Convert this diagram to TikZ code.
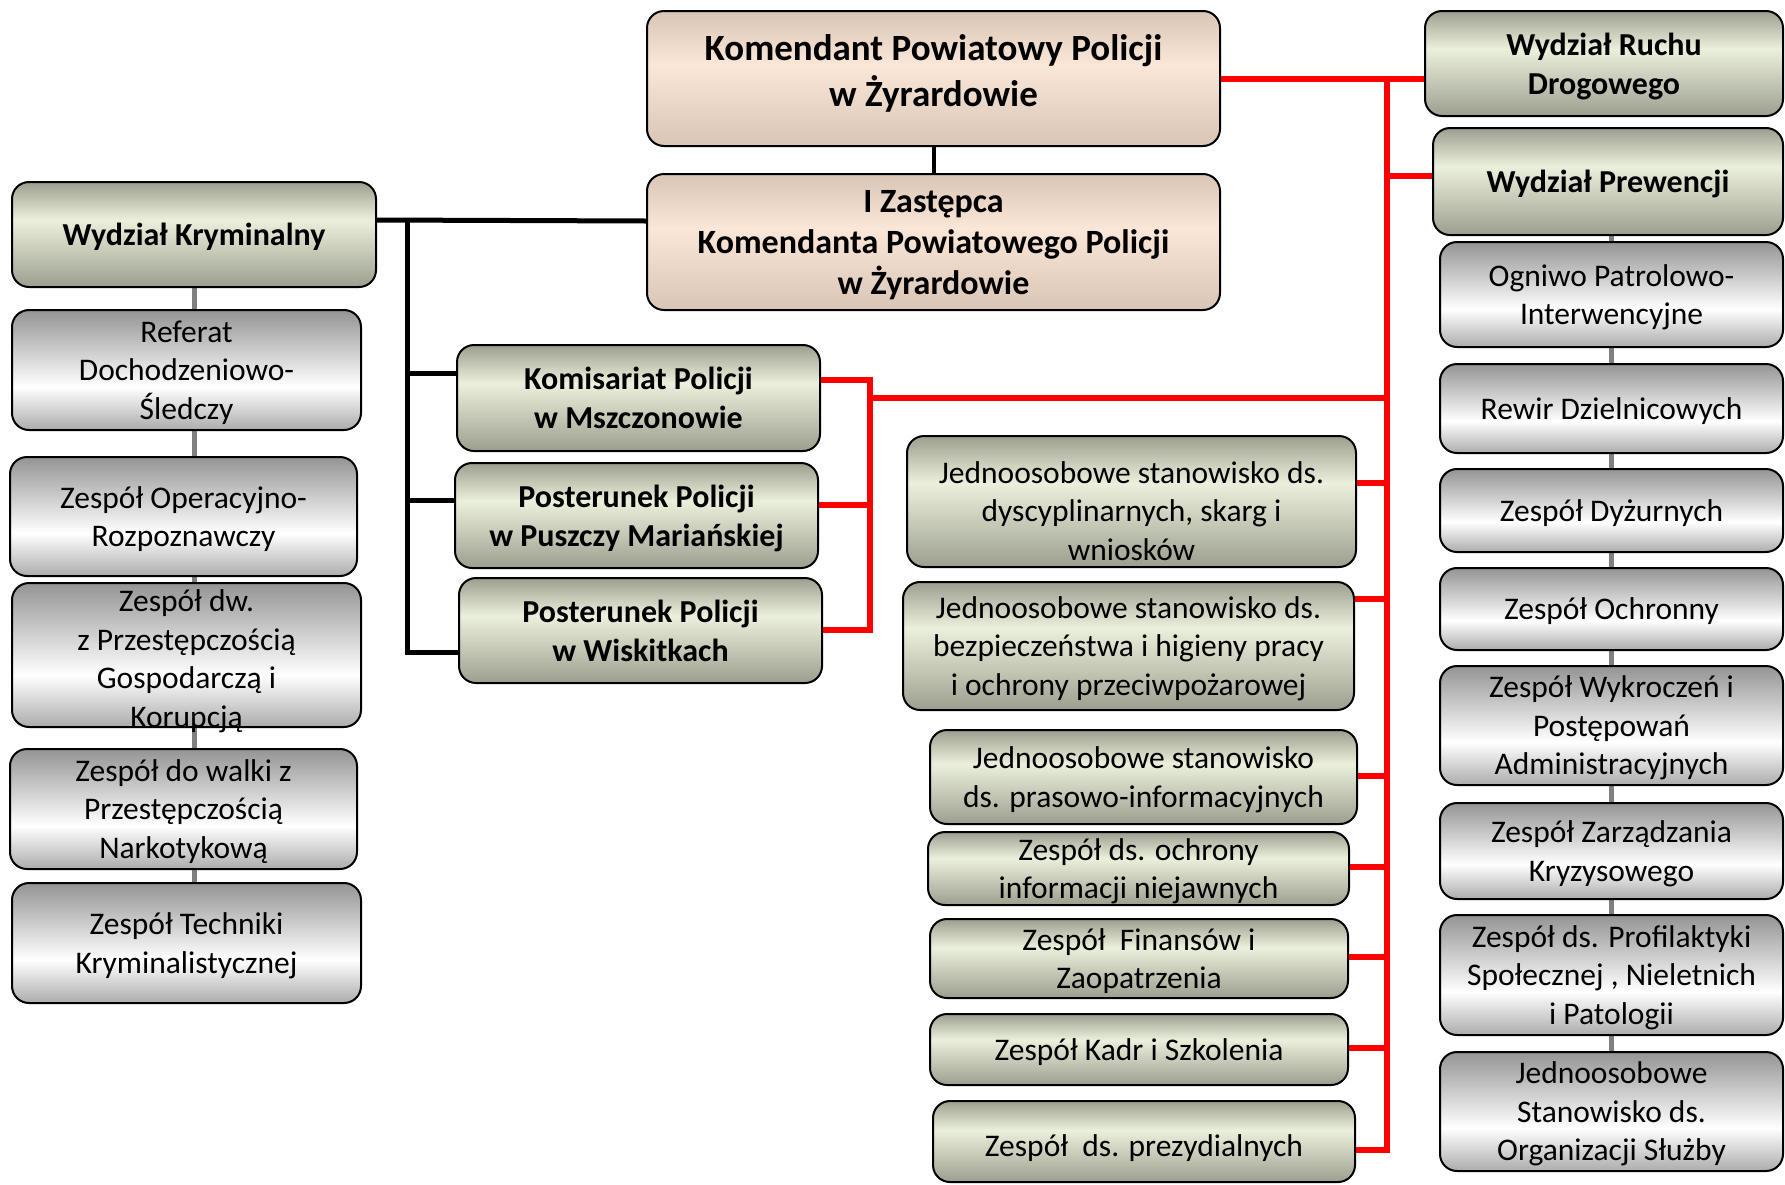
\documentclass[tikz,border=0pt]{standalone}
\usepackage{fontspec}
\setmainfont{Carlito}
\usepackage{tikz}
\usetikzlibrary{%
  positioning
 ,backgrounds
}
\definecolor{olD}{RGB}{156,159,142}
\definecolor{olL}{RGB}{235,240,220}
\definecolor{grD}{RGB}{148,148,148}
\definecolor{grB}{RGB}{172,172,172}
\definecolor{tnD}{RGB}{216,197,182}
\definecolor{tnL}{RGB}{251,231,216}
\definecolor{redl}{RGB}{255,0,0}
\definecolor{grl}{RGB}{128,128,128}
\pgfdeclareverticalshading{olv}{100bp}{color(0bp)=(olD); color(25bp)=(olD); color(57bp)=(olL); color(75bp)=(olD); color(100bp)=(olD)}
\pgfdeclareverticalshading{gry}{100bp}{color(0bp)=(grB); color(25bp)=(grB); color(43bp)=(white); color(75bp)=(grD); color(100bp)=(grD)}
\pgfdeclareverticalshading{tnsh}{100bp}{color(0bp)=(tnD); color(25bp)=(tnD); color(55bp)=(tnL); color(75bp)=(tnD); color(100bp)=(tnD)}
\tikzstyle{bx}=[rectangle,rounded corners=17pt,draw=black,line width=2pt,align=center,inner sep=0pt,shade,text depth=0pt]
\tikzstyle{ob}=[bx,shading=olv,font=\bfseries\fontsize{32}{39}\selectfont]
\tikzstyle{olvn}=[bx,shading=olv]
\tikzstyle{gb}=[bx,shading=gry]
\tikzstyle{tb}=[bx,shading=tnsh,font=\bfseries\fontsize{34}{41}\selectfont]
\tikzstyle{blk}=[draw=black,line width=5pt]
\tikzstyle{rdl}=[draw=redl,line width=6pt]
\tikzstyle{gln}=[draw=grl,line width=5pt]

\begin{document}
\begin{tikzpicture}[x=1pt,y=-1pt,%
  every node/.style={font=\fontsize{31.5}{38.5}\selectfont},%
  wh/.style 2 args={minimum width=#1pt,minimum height=#2pt}]
\useasboundingbox (0,0) rectangle (1785,1184);
\node[tb,wh={573}{135},text depth=16pt,font=\bfseries\fontsize{37}{45.5}\selectfont](kpp)at(933.5,78.5){Komendant Powiatowy Policji\\w Żyrardowie};
\node[tb,wh={573}{136}](zast)at(933.5,242){I Zastępca\\Komendanta Powiatowego Policji\\w Żyrardowie};
\node[ob,wh={364}{105}](wk)at(194,234.5){Wydział Kryminalny};
\node[gb,wh={349}{120}](ref)at(186.5,370){Referat\\Dochodzeniowo-\\Śledczy};
\node[gb,wh={347}{119}](ops)at(183.5,516.5){Zespół Operacyjno-\\Rozpoznawczy};
\node[gb,wh={349}{142},text height=144pt](gosp)at(186.5,655){Zespół dw.\\z Przestępczością\\Gospodarczą i\\Korupcją};
\node[gb,wh={347}{120}](nark)at(183.5,809){Zespół do walki z\\Przestępczością\\Narkotykową};
\node[gb,wh={349}{120}](tech)at(186.5,943){Zespół Techniki\\Kryminalistycznej};
\node[ob,wh={363}{106}](kom)at(638.5,398){Komisariat Policji\\w Mszczonowie};
\node[ob,wh={363}{105}](psz)at(636.5,515.5){Posterunek Policji\\w Puszczy Mariańskiej};
\node[ob,wh={363}{105}](wis)at(640.5,630.5){Posterunek Policji\\w Wiskitkach};
\node[olvn,wh={449}{131},text height=117pt](dys)at(1131.5,501.5){Jednoosobowe stanowisko ds.\\dyscyplinarnych, skarg i\\wniosków};
\node[olvn,wh={451}{128}](bhp)at(1128.5,646){Jednoosobowe stanowisko ds.\\bezpieczeństwa i higieny pracy\\i ochrony przeciwpożarowej};
\node[olvn,wh={427}{94}](pras)at(1143.5,777){Jednoosobowe stanowisko\\ds. prasowo-informacyjnych};
\node[olvn,wh={421}{73}](info)at(1138.5,868.5){Zespół ds. ochrony\\informacji niejawnych};
\node[olvn,wh={418}{79}](fin)at(1139,958.5){Zespół\ \ Finansów i\\Zaopatrzenia};
\node[olvn,wh={418}{71}](kadr)at(1139,1049.5){Zespół Kadr i Szkolenia};
\node[olvn,wh={422}{81},text height=29.5pt](prez)at(1144,1141.5){Zespół\ \ ds. prezydialnych};
\node[ob,wh={358}{105}](wrd)at(1604,63.5){Wydział Ruchu\\Drogowego};
\node[ob,wh={350}{107}](wpr)at(1608,181.5){Wydział Prewencji};
\node[gb,wh={343}{105}](ogn)at(1611.5,294.5){Ogniwo Patrolowo-\\Interwencyjne};
\node[gb,wh={343}{89}](rew)at(1611.5,408.5){Rewir Dzielnicowych};
\node[gb,wh={343}{83}](dyz)at(1611.5,510.5){Zespół Dyżurnych};
\node[gb,wh={343}{82}](och)at(1611.5,609){Zespół Ochronny};
\node[gb,wh={343}{119}](wyk)at(1611.5,725.5){Zespół Wykroczeń i\\Postępowań\\Administracyjnych};
\node[gb,wh={343}{96}](zkr)at(1611.5,851){Zespół Zarządzania\\Kryzysowego};
\node[gb,wh={343}{120}](prof)at(1611.5,975){Zespół ds. Profilaktyki\\Społecznej , Nieletnich\\i Patologii};
\node[gb,wh={343}{119}](org)at(1611.5,1111.5){Jednoosobowe\\Stanowisko ds.\\Organizacji Służby};
\coordinate(tr)at(407,220);
\coordinate(trb)at(407,652);
\coordinate(sp)at(1387,79);
\coordinate(spb)at(1387,1150);
\coordinate(brk)at(870,380);
\coordinate(brkb)at(870,630);
\begin{scope}[on background layer]
\draw[gln](wk.south)--(wk.south|-tech.north);
\draw[gln](wpr.south-|ogn.south)--(org.north);
\end{scope}
\draw[line width=4pt](kpp.south)--(zast.north);
\draw[blk]([yshift=14.5pt]wk.east)--([yshift=21pt]zast.west);
\draw[blk](tr)--(trb)--(trb-|wis.west);
\draw[blk]([yshift=25pt]kom.west)-|(tr);
\draw[blk]([yshift=15.5pt]psz.west)-|(tr);
\draw[rdl](kpp.east)--(kpp.east-|wrd.west);
\draw[rdl](sp)--(spb)--(spb-|prez.east);
\draw[rdl]([yshift=5.5pt]wpr.west)-|(sp);
\draw[rdl]([yshift=18pt]kom.east)--(brk)--(brkb)--(brkb-|wis.east);
\draw[rdl]([yshift=10.5pt]psz.east)-|(brk);
\draw[rdl](kom.east-|brk)--(kom.east-|sp);
\foreach \n/\s in {dys/18.5,bhp/47,pras/1,info/1.5,fin/1.5,kadr/1.5}
  \draw[rdl]([yshift=\s pt]\n.east)-|(sp);
\end{tikzpicture}
\end{document}
